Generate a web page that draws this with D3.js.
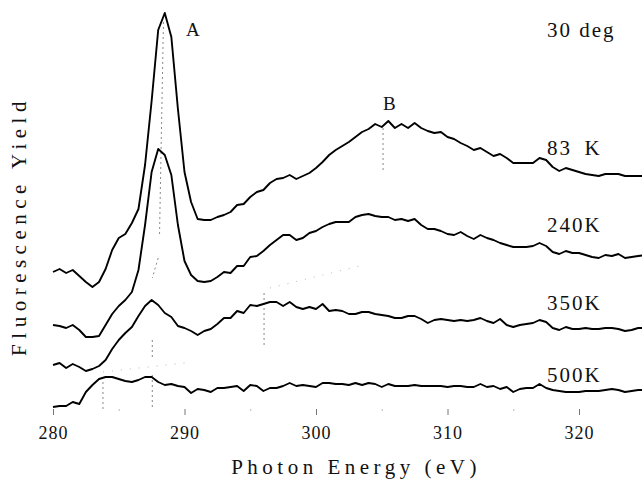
<!DOCTYPE html>
<html>
<head>
<meta charset="utf-8">
<script src="https://cdn.jsdelivr.net/npm/d3@7"></script>
<style>
  html, body { margin: 0; padding: 0; background: #fff; }
  svg { display: block; }
  text { font-family: "Liberation Serif", "DejaVu Serif", serif; fill: #111; }
</style>
</head>
<body>
<svg id="chart" width="642" height="480"></svg>
<script>
// Photon energy grid (eV), 0.5 eV steps
const energy = d3.range(0, 91).map(i => 280 + i * 0.5);

// Fluorescence yield, stacked traces (arbitrary units)
const yield83K = [148,151,147,150,144,138,133,138,151,170,182,186,197,211,255,319,390,407,383,311,
  248,218,201,200,200,203,205,208,215,216,223,228,230,237,241,242,245,241,244,247,
  252,258,265,270,274,278,283,288,291,296,293,299,292,296,292,297,292,289,287,288,
  283,281,277,274,270,272,268,264,266,262,257,257,257,257,262,260,253,249,252,250,
  248,246,245,244,246,246,246,244,244,244,244];
const yield240K = [95,94,92,95,90,83,83,84,95,106,114,120,128,150,195,248,271,265,245,195,
  159,145,139,138,139,143,148,147,154,154,163,164,169,175,180,185,185,180,182,187,
  189,193,196,198,198,198,203,205,206,204,203,203,200,201,199,201,195,191,191,189,
  186,185,188,184,181,185,182,180,177,175,173,173,173,174,177,174,168,166,169,167,
  167,165,163,162,165,164,166,162,163,164,165];
const yield350K = [55,57,52,56,53,49,51,54,60,71,80,87,93,104,114,120,115,107,103,94,
  92,89,85,89,91,96,102,102,109,107,115,114,116,118,118,114,118,113,111,113,
  111,116,109,110,109,106,106,108,108,106,105,104,102,102,104,104,101,97,100,101,
  100,99,100,99,100,102,99,97,101,95,93,95,96,97,100,98,92,90,93,91,
  91,92,91,91,92,92,91,89,90,92,92];
const yield500K = [13,14,14,18,16,28,35,41,43,43,41,39,38,40,43,43,38,35,36,34,
  33,27,31,30,28,32,32,33,34,29,35,34,29,32,32,34,37,34,35,34,
  33,37,37,36,36,35,37,35,37,36,33,36,34,34,34,35,34,34,34,34,
  33,34,34,33,33,36,33,34,31,33,28,31,32,32,36,32,30,29,28,28,
  28,29,29,29,30,31,30,28,29,30,30];

const seriesNames = ["83 K", "240K", "350K", "500K"];
const seriesValues = [yield83K, yield240K, yield350K, yield500K];

// Peak markers: [E1, y1, E2, y2]
const peakMarks = [
  [288.4, 398, 288.1, 185],
  [288.0, 162, 287.55, 142],
  [287.55, 80, 287.55, 63],
  [296.05, 127, 296.05, 72],
  [287.55, 45, 287.55, 10],
  [283.8, 38, 283.8, 10],
  [305.1, 292, 305.1, 247]
];
const guideMarks = [
  [283.8, 48, 290.0, 57],
  [296.5, 132, 303.3, 154]
];

const tickValues = d3.range(280, 326, 5);
const tickLabels = [280, 290, 300, 310, 320];

const svg = d3.select("#chart");
svg.append("rect").attr("width", 642).attr("height", 480).attr("fill", "#fff");

const x = d3.scaleLinear().domain([280, 325]).range([53, 644.75]);
const y = d3.scaleLinear().domain([0, 400]).range([420, 20]);

const plot = svg.append("g");

// Peak guide lines
plot.selectAll("line.peak").data(peakMarks).join("line")
  .attr("class", "peak")
  .attr("x1", d => x(d[0])).attr("y1", d => y(d[1]))
  .attr("x2", d => x(d[2])).attr("y2", d => y(d[3]))
  .attr("stroke", "#888").attr("stroke-width", 1)
  .attr("stroke-dasharray", "2,3");
plot.selectAll("line.guide").data(guideMarks).join("line")
  .attr("class", "guide")
  .attr("x1", d => x(d[0])).attr("y1", d => y(d[1]))
  .attr("x2", d => x(d[2])).attr("y2", d => y(d[3]))
  .attr("stroke", "#bbb").attr("stroke-width", 1)
  .attr("stroke-dasharray", "1,8");

// Spectra
const line = d3.line().x((d, i) => x(energy[i])).y(d => y(d));
plot.selectAll("path.trace").data(seriesValues).join("path")
  .attr("class", "trace")
  .attr("d", line)
  .attr("fill", "none")
  .attr("stroke", "#000")
  .attr("stroke-width", 1.9)
  .attr("stroke-linejoin", "round");

// Energy axis (ticks only)
const axis = d3.axisBottom(x)
  .tickValues(tickValues)
  .tickSize(0)
  .tickPadding(0)
  .tickFormat(d => tickLabels.includes(d) ? d3.format("d")(d) : "");
const ax = svg.append("g").attr("transform", "translate(0,409)").call(axis);
ax.select(".domain").remove();
ax.selectAll(".tick line").remove();
ax.selectAll(".tick").append("line")
  .attr("y1", 0)
  .attr("y2", d => (d % 10 === 0 ? 6 : 2))
  .attr("stroke", d => (d % 10 === 0 ? "#777" : "#bbb"))
  .attr("stroke-width", 1);
ax.selectAll(".tick text")
  .attr("y", 30)
  .attr("dy", 0)
  .style("font-family", '"Liberation Serif", "DejaVu Serif", serif')
  .style("font-size", "18px")
  .style("letter-spacing", "1px")
  .attr("fill", "#111");

// Series labels
const labelY = [155, 232, 310, 382];
svg.selectAll("text.series").data(seriesNames).join("text")
  .attr("class", "series")
  .attr("x", 547)
  .attr("y", (d, i) => labelY[i])
  .attr("font-size", 21)
  .attr("letter-spacing", 2)
  .attr("xml:space", "preserve")
  .text(d => d.replace(" ", "\u2002"));

svg.append("text").attr("x", 547).attr("y", 37)
  .attr("font-size", 21).attr("letter-spacing", 2)
  .text("30 deg");
svg.append("text").attr("x", 186).attr("y", 36)
  .attr("font-size", 19).text("A");
svg.append("text").attr("x", 383).attr("y", 110)
  .attr("font-size", 19).text("B");

// Axis titles
svg.append("text")
  .attr("x", 356).attr("y", 474)
  .attr("text-anchor", "middle")
  .attr("font-size", 21)
  .attr("letter-spacing", 4.5)
  .text("Photon Energy (eV)");
svg.append("text")
  .attr("transform", "translate(26,226) rotate(-90)")
  .attr("text-anchor", "middle")
  .attr("font-size", 21)
  .attr("letter-spacing", 5.5)
  .text("Fluorescence Yield");
</script>
</body>
</html>
